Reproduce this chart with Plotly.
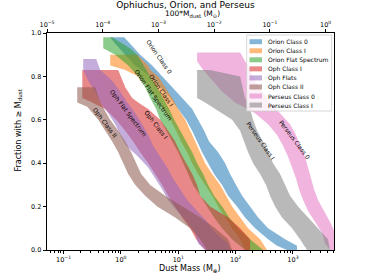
import plotly.graph_objects as go

# ---------------- data (dust mass in Earth masses, fraction >= M) ----------------
series_names = ["Orion Class 0", "Orion Class I", "Orion Flat Spectrum", "Oph Class I",
                "Oph Flats", "Oph Class II", "Perseus Class 0", "Perseus Class I"]

orion0_frac = [0.98, 0.95, 0.90, 0.85, 0.80, 0.75, 0.70, 0.65, 0.60, 0.55, 0.50, 0.45,
               0.40, 0.35, 0.30, 0.25, 0.20, 0.15, 0.10, 0.05, 0.02, 0.0]
orion0_lo = [0.651, 0.796, 1.19, 1.78, 3.24, 4.84, 7.22, 9.96, 13.7, 17.5, 21.3, 26.1,
             33.2, 42.2, 58.2, 74.0, 106, 146, 219, 368, 528, 789]
orion0_hi = [1.14, 1.45, 2.17, 3.51, 5.24, 7.83, 11.7, 17.5, 22.2, 28.3, 34.5, 49.6,
             65.7, 80.2, 102, 130, 179, 247, 368, 728, 1178, 1178]

orion1_frac = [0.90, 0.85, 0.83, 0.80, 0.75, 0.70, 0.65, 0.60, 0.55, 0.50, 0.45, 0.40,
               0.35, 0.30, 0.25, 0.20, 0.15, 0.10, 0.05, 0.0]
orion1_lo = [0.651, 0.651, 1.19, 2.00, 2.99, 3.96, 5.46, 7.22, 9.19, 11.2, 14.3, 17.5,
             22.2, 29.4, 39.0, 49.6, 65.7, 86.9, 120, 146]
orion1_hi = [1.92, 2.99, 3.24, 4.47, 5.91, 7.83, 9.96, 13.2, 16.1, 19.7, 24.1, 29.4,
             39.0, 53.7, 68.3, 86.9, 120, 165, 267, 354]

orionfs_frac = [0.98, 0.93, 0.90, 0.85, 0.80, 0.75, 0.70, 0.65, 0.60, 0.55, 0.50, 0.45,
                0.40, 0.35, 0.30, 0.25, 0.20, 0.15, 0.10, 0.05, 0.0]
orionfs_lo = [0.492, 0.492, 0.796, 1.34, 2.00, 2.65, 3.24, 4.12, 4.84, 6.15, 7.83, 9.96,
              12.2, 14.9, 18.2, 24.1, 31.9, 42.2, 58.2, 86.9, 146]
orionfs_hi = [0.705, 1.45, 1.92, 2.45, 3.24, 4.29, 5.46, 6.94, 8.49, 10.8, 13.7, 17.5,
              21.3, 27.2, 33.2, 42.2, 58.2, 77.1, 111, 179, 301]

oph1_frac = [0.83, 0.75, 0.70, 0.68, 0.65, 0.60, 0.55, 0.50, 0.45, 0.40, 0.35, 0.30,
             0.25, 0.20, 0.15, 0.10, 0.05, 0.0]
oph1_lo = [0.212, 0.212, 0.212, 0.316, 0.533, 0.828, 1.19, 1.64, 2.17, 2.99, 3.96, 5.24,
           6.67, 8.83, 11.7, 16.1, 20.5, 29.4]
oph1_hi = [0.897, 1.19, 1.57, 2.00, 2.99, 4.84, 6.67, 8.83, 10.8, 13.7, 17.5, 21.3,
           24.1, 35.9, 74.0, 120, 179, 179]

ophfs_frac = [0.88, 0.83, 0.78, 0.73, 0.68, 0.63, 0.58, 0.53, 0.48, 0.43, 0.38, 0.33,
              0.28, 0.23, 0.18, 0.13, 0.08, 0.03, 0.0]
ophfs_lo = [0.220, 0.220, 0.269, 0.357, 0.436, 0.601, 0.796, 0.972, 1.24, 2.00, 2.99,
            3.96, 5.24, 6.67, 9.57, 14.3, 19.7, 22.2, 29.4]
ophfs_hi = [0.371, 0.436, 0.705, 0.972, 1.29, 1.78, 2.35, 2.99, 3.65, 4.84, 6.41, 8.15,
            10.8, 14.3, 21.3, 31.9, 44.0, 74.0, 80.2]

oph2_frac = [0.75, 0.68, 0.66, 0.60, 0.55, 0.50, 0.45, 0.40, 0.35, 0.30, 0.25, 0.20,
             0.15, 0.10, 0.05, 0.0]
oph2_lo = [0.173, 0.173, 0.259, 0.402, 0.533, 0.705, 0.897, 1.10, 1.34, 1.78, 2.65,
           4.29, 8.83, 16.1, 24.1, 31.9]
oph2_hi = [0.357, 0.436, 0.492, 0.651, 0.897, 1.19, 1.51, 1.85, 2.26, 3.24, 5.91,
           11.7, 24.1, 44.0, 74.0, 86.9]

pers0_frac = [0.91, 0.87, 0.83, 0.78, 0.73, 0.68, 0.63, 0.58, 0.53, 0.48, 0.43, 0.38,
              0.33, 0.28, 0.23, 0.18, 0.13, 0.08, 0.03, 0.0]
pers0_lo = [21.3, 21.3, 27.2, 40.6, 58.2, 98.0, 219, 368, 528, 673, 822, 964, 1132,
            1277, 1500, 1834, 2427, 3215, 3624, 4427]
pers0_hi = [120, 146, 179, 219, 290, 399, 596, 891, 1132, 1330, 1626, 1834, 2067, 2333,
            2738, 3483, 4427, 5408, 6622, 6622]

pers1_frac = [0.83, 0.80, 0.70, 0.68, 0.65, 0.60, 0.55, 0.50, 0.45, 0.40, 0.35, 0.30,
              0.25, 0.20, 0.15, 0.10, 0.05, 0.0]
pers1_lo = [21.3, 21.3, 21.3, 29.4, 44.0, 86.9, 120, 141, 165, 202, 267, 340, 399, 488,
            646, 964, 1330, 1762]
pers1_hi = [35.9, 120, 146, 165, 179, 202, 237, 301, 368, 450, 596, 728, 891, 1227,
            1762, 2738, 4086, 4427]

bottom_ticks = [0.1, 1, 10, 100, 1000]
bottom_ticktext = ["10<sup>−1</sup>", "10<sup>0</sup>", "10<sup>1</sup>", "10<sup>2</sup>", "10<sup>3</sup>"]
top_ticks = [1e-5, 1e-4, 1e-3, 1e-2, 1e-1, 1]
top_ticktext = ["10<sup>−5</sup>", "10<sup>−4</sup>", "10<sup>−3</sup>", "10<sup>−2</sup>",
                "10<sup>−1</sup>", "10<sup>0</sup>"]
y_ticks = [0.0, 0.2, 0.4, 0.6, 0.8, 1.0]

colors = ["#1f77b4", "#ff7f0e", "#2ca02c", "#d62728", "#9467bd", "#8c564b", "#e377c2", "#7f7f7f"]
ALPHA = 0.55


def rgba(h, a):
    h = h.lstrip("#")
    r, g, b = int(h[0:2], 16), int(h[2:4], 16), int(h[4:6], 16)
    return f"rgba({r},{g},{b},{a})"


bands = [
    (orion0_frac, orion0_lo, orion0_hi),
    (orion1_frac, orion1_lo, orion1_hi),
    (orionfs_frac, orionfs_lo, orionfs_hi),
    (oph1_frac, oph1_lo, oph1_hi),
    (ophfs_frac, ophfs_lo, ophfs_hi),
    (oph2_frac, oph2_lo, oph2_hi),
    (pers0_frac, pers0_lo, pers0_hi),
    (pers1_frac, pers1_lo, pers1_hi),
]

fig = go.Figure()
for name, col, (fr, lo, hi) in zip(series_names, colors, bands):
    fig.add_trace(go.Scatter(
        x=list(lo) + list(hi)[::-1],
        y=list(fr) + list(fr)[::-1],
        fill="toself", fillcolor=rgba(col, ALPHA), mode="lines",
        line=dict(width=0, color="rgba(0,0,0,0)"),
        name=name, showlegend=False, hoverinfo="skip",
    ))

# invisible trace to activate top axis
fig.add_trace(go.Scatter(x=[1e-3], y=[0.5], xaxis="x2", mode="markers",
                         marker=dict(opacity=0), showlegend=False, hoverinfo="skip"))

FONT = "DejaVu Sans"
minor_vals = [m * 10 ** e for e in range(-2, 4) for m in range(2, 10)]

L, R, T, B = 47, 38, 33, 29
W, H = 372, 279
pw, ph = W - L - R, H - T - B


def px(xp):
    return (xp - L) / pw


def py(yp):
    return (H - B - yp) / ph


fig.update_layout(
    width=W, height=H, margin=dict(l=L, r=R, t=T, b=B),
    paper_bgcolor="white", plot_bgcolor="white",
    font=dict(family=FONT, size=7, color="black"),
    showlegend=False,
    title=dict(text="Ophiuchus, Orion, and Perseus", x=px(190), xanchor="center",
               y=1 - 5 / H, yanchor="middle", font=dict(size=9, family=FONT, color="black")),
    xaxis=dict(type="log", range=[-1.289, 3.716], showgrid=False, zeroline=False,
               showline=True, linecolor="black", linewidth=0.8,
               ticks="outside", ticklen=3.5, tickwidth=0.8, tickcolor="black",
               tickvals=bottom_ticks, ticktext=bottom_ticktext,
               tickfont=dict(size=6.5, family=FONT),
               minor=dict(tickvals=minor_vals, ticks="outside", ticklen=2,
                          tickwidth=0.6, tickcolor="black", showgrid=False)),
    xaxis2=dict(type="log", range=[-5, 0.15], overlaying="x", side="top", anchor="y",
                showgrid=False, zeroline=False, showline=True, linecolor="black",
                linewidth=0.8, ticks="outside", ticklen=3, tickwidth=0.8,
                tickcolor="black", tickvals=top_ticks, ticktext=top_ticktext,
                tickfont=dict(size=6.5, family=FONT)),
    yaxis=dict(range=[0, 1], showgrid=False, zeroline=False, showline=True,
               linecolor="black", linewidth=0.8, mirror=True,
               ticks="outside", ticklen=3.5, tickwidth=0.8, tickcolor="black",
               tickvals=y_ticks, tickformat=".1f", tickfont=dict(size=6.5, family=FONT)),
)

annos = []
# axis titles
annos.append(dict(text="Dust Mass (M<sub>⊕</sub>)", x=px(190), y=py(269), xref="paper", yref="paper",
                  showarrow=False, xanchor="center", yanchor="middle", font=dict(size=8)))
annos.append(dict(text="100*M<sub>dust</sub> (M<sub>⊙</sub>)", x=px(192), y=py(14), xref="paper",
                  yref="paper", showarrow=False, xanchor="center", yanchor="middle",
                  font=dict(size=7.5)))
annos.append(dict(text="Fraction with ≥ M<sub>dust</sub>", x=px(18.5), y=py(130), xref="paper",
                  yref="paper", showarrow=False, xanchor="center", yanchor="middle",
                  textangle=-90, font=dict(size=8)))

# band labels
labels = [
    ("Orion Class 0", 159, 57, 55),
    ("Orion Class I", 162, 90, 55),
    ("Orion Flat Spectrum", 153, 95, 55),
    ("Oph Flat Spectrum", 128, 113, 53),
    ("Oph Class I", 156, 125, 52),
    ("Oph Class II", 105, 123, 53),
    ("Perseus Class I", 261, 140, 55),
    ("Perseus Class 0", 295, 139, 53),
]
for t, x0, y0, ang in labels:
    annos.append(dict(text=t, x=px(x0), y=py(y0), xref="paper", yref="paper", showarrow=False,
                      xanchor="center", yanchor="middle", textangle=ang,
                      font=dict(size=6, color="black")))

# manual legend
shapes = [dict(type="rect", xref="paper", yref="paper", x0=px(246.7), x1=px(331.7),
               y0=py(111), y1=py(35), line=dict(color="#cccccc", width=0.8),
               fillcolor="rgba(255,255,255,0.8)", layer="above")]
for i, (name, col) in enumerate(zip(series_names, colors)):
    yc = 41.7 + 9.05 * i
    shapes.append(dict(type="rect", xref="paper", yref="paper", x0=px(249.5), x1=px(262),
                       y0=py(yc + 2.5), y1=py(yc - 2.5), line=dict(width=0),
                       fillcolor=rgba(col, ALPHA), layer="above"))
    annos.append(dict(text=name, x=px(266), y=py(yc), xref="paper", yref="paper",
                      showarrow=False, xanchor="left", yanchor="middle",
                      font=dict(size=6, color="black")))

fig.update_layout(annotations=annos, shapes=shapes)
fig.write_html("out.html", config={"displayModeBar": False},
               post_script="document.body.style.margin='0px';")
